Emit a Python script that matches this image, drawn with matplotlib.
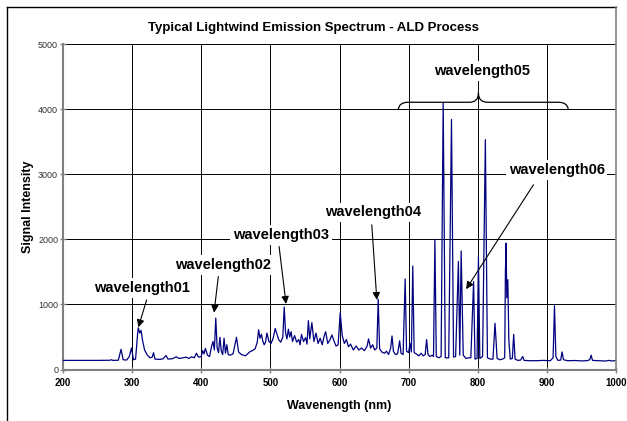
import numpy as np
import matplotlib.pyplot as plt
from matplotlib.path import Path
from matplotlib.patches import PathPatch
from matplotlib.lines import Line2D

plt.rcParams['font.family'] = ['Liberation Sans', 'DejaVu Sans']

# spectrum: wavelength (nm) and signal intensity
wavelength = [200, 230, 250, 268, 270, 272, 280, 284, 287, 292, 296, 299, 302, 305,
              308, 309, 311, 313, 315, 318, 322, 326, 329, 331, 333, 340, 345, 349,
              352, 358, 364, 368, 374, 378, 382, 386, 390, 393, 396, 400, 402, 404,
              406, 409, 412, 415, 417, 419, 421, 423, 425, 427, 429, 431, 433, 435,
              437, 439, 442, 446, 451, 454, 458, 464, 470, 474, 478, 481, 483, 485,
              487, 489, 491, 493, 495, 498, 501, 504, 507, 509, 512, 515, 518, 520,
              522, 524, 526, 528, 530, 532, 535, 538, 541, 543, 545, 548, 551, 553,
              555, 557, 560, 563, 566, 569, 572, 575, 578, 580, 583, 586, 589, 592,
              595, 598, 601, 604, 607, 610, 613, 616, 620, 624, 628, 632, 636, 640,
              642, 645, 648, 651, 654, 656, 658, 661, 665, 668, 671, 674, 676, 678,
              681, 684, 687, 689, 692, 695, 697, 700, 702, 704, 706, 708, 711, 715,
              718, 721, 724, 726, 728, 731, 734, 736, 738, 740, 744, 747, 750, 753,
              758, 762, 765, 768, 772, 774, 776, 779, 783, 787, 790, 794, 796, 799,
              801, 803, 807, 811, 814, 818, 822, 825, 828, 832, 836, 839, 840, 841,
              842, 843.5, 845, 847, 850, 852, 854, 858, 862, 865, 867, 875, 885, 895,
              905, 909, 911, 913, 916, 920, 922, 924, 930, 940, 950, 958, 962, 964,
              966, 975, 985, 990, 993, 1000]
intensity = [140, 140, 140, 142, 150, 140, 142, 310, 150, 145, 200, 330, 150, 160,
             560, 640, 560, 600, 450, 300, 220, 180, 190, 258, 160, 155, 165, 215,
             160, 165, 195, 170, 180, 190, 170, 195, 180, 250, 190, 200, 290, 240,
             325, 220, 200, 360, 430, 300, 790, 330, 260, 495, 280, 230, 480, 250,
             380, 230, 220, 240, 495, 270, 230, 210, 270, 290, 320, 420, 610, 480,
             540, 440, 380, 420, 560, 430, 400, 480, 630, 560, 460, 420, 500, 960,
             560, 470, 620, 500, 580, 430, 520, 420, 460, 380, 540, 430, 490, 390,
             750, 470, 720, 430, 560, 400, 480, 380, 520, 580, 400, 450, 530, 440,
             360, 380, 870, 520, 400, 460, 350, 390, 300, 360, 300, 330, 290, 360,
             470, 330, 380, 300, 330, 1080, 320, 270, 250, 280, 230, 330, 515, 280,
             230, 240, 440, 250, 230, 1390, 280, 260, 400, 270, 1590, 260, 240, 210,
             250, 210, 230, 460, 230, 200, 220, 200, 2000, 200, 180, 200, 4100, 180,
             180, 3840, 190, 200, 1660, 220, 1820, 220, 170, 180, 180, 1350, 160, 170,
             1730, 170, 200, 3530, 180, 160, 160, 710, 170, 150, 160, 180, 1490, 1940,
             1100, 1380, 450, 160, 170, 540, 160, 140, 145, 200, 140, 135, 135, 140,
             135, 180, 980, 200, 140, 145, 270, 150, 135, 138, 132, 135, 150, 220,
             140, 135, 130, 140, 132, 135]

# labels, where they sit and what their arrows point at
labels = ['wavelength01', 'wavelength02', 'wavelength03', 'wavelength04',
          'wavelength05', 'wavelength06']
label_x = [314, 432, 515, 649, 806, 914]
label_y = [1257, 1608, 2069, 2412, 4582, 3069]
arrow_from = [(321, 1069), (424.7, 1428), (512.6, 1889), (646.7, 2223), None, (880.6, 2838)]
arrow_to = [(309, 649), (418.5, 874), (522.7, 1008), (654, 1069), None, (783.2, 1234)]

# brace over the argon/oxygen lines
brace_left, brace_mid, brace_right = 685, 801, 931
brace_low, brace_level, brace_tip = 3990, 4105, 4246

fig = plt.figure(figsize=(6.27, 4.21), dpi=100)
ax = fig.add_axes([63 / 627, 1 - 369.5 / 421, 553 / 627, 325.5 / 421])

ax.plot(wavelength, intensity, color='#000080', lw=0.9, zorder=3)

ax.set_xlim(200, 1000)
ax.set_ylim(0, 5000)
ax.set_xticks(np.arange(200, 1001, 100))
ax.set_yticks(np.arange(0, 5001, 1000))
ax.grid(True, color='black', lw=0.7)
ax.set_axisbelow(True)
for side in ['top', 'right']:
    ax.spines[side].set_visible(False)
for side in ['left', 'bottom']:
    ax.spines[side].set_color('#808080')
    ax.spines[side].set_linewidth(1.5)
ax.tick_params(axis='both', direction='inout', length=4, color='#808080', width=1)
ax.tick_params(axis='x', labelsize=7, pad=4)
ax.tick_params(axis='y', labelsize=6.5, pad=1.5, labelcolor='#333333')
for t in ax.get_xticklabels():
    t.set_fontweight('bold')

ax.set_xlabel('Wavenength (nm)', fontsize=9, fontweight='bold')
ax.xaxis.set_label_coords(0.5, -0.095)
ax.set_ylabel('Signal Intensity', fontsize=9, fontweight='bold')
ax.yaxis.set_label_coords(-0.052, 0.5)

fig.text(313 / 627, 1 - 28 / 421, 'Typical Lightwind Emission Spectrum - ALD Process',
         ha='center', va='center', fontsize=9.5, fontweight='bold')

for name, lx, ly, a0, a1 in zip(labels, label_x, label_y, arrow_from, arrow_to):
    ax.text(lx, ly, name, ha='center', va='center', fontsize=10.5, fontweight='bold',
            bbox=dict(boxstyle='square,pad=0.2', fc='white', ec='none'), zorder=5)
    if a0 is not None:
        ax.annotate('', xy=a1, xytext=a0, zorder=6,
                    arrowprops=dict(arrowstyle='-|>', color='black', lw=0.8,
                                    mutation_scale=11, shrinkA=0, shrinkB=0))

verts = [(brace_left, brace_low), (brace_left + 1, brace_level), (brace_left + 14, brace_level),
         (brace_mid - 13, brace_level),
         (brace_mid, brace_level), (brace_mid, brace_tip),
         (brace_mid, brace_level), (brace_mid + 13, brace_level),
         (brace_right - 14, brace_level),
         (brace_right - 1, brace_level), (brace_right, brace_low)]
codes = [Path.MOVETO, Path.CURVE3, Path.CURVE3, Path.LINETO,
         Path.CURVE3, Path.CURVE3, Path.CURVE3, Path.CURVE3, Path.LINETO,
         Path.CURVE3, Path.CURVE3]
ax.add_patch(PathPatch(Path(verts, codes), fc='none', ec='black', lw=0.9, zorder=4))

# outer chart frame
fx0, fx1, fy1 = 7 / 627, 616 / 627, 1 - 7 / 421
fig.add_artist(Line2D([fx0, fx0], [0, fy1], color='black', lw=1))
fig.add_artist(Line2D([fx0, fx1], [fy1, fy1], color='black', lw=1))
fig.add_artist(Line2D([fx1, fx1], [fy1, 1 - 369.5 / 421], color='#808080', lw=1.2))

fig.savefig('out.png', dpi=100)
